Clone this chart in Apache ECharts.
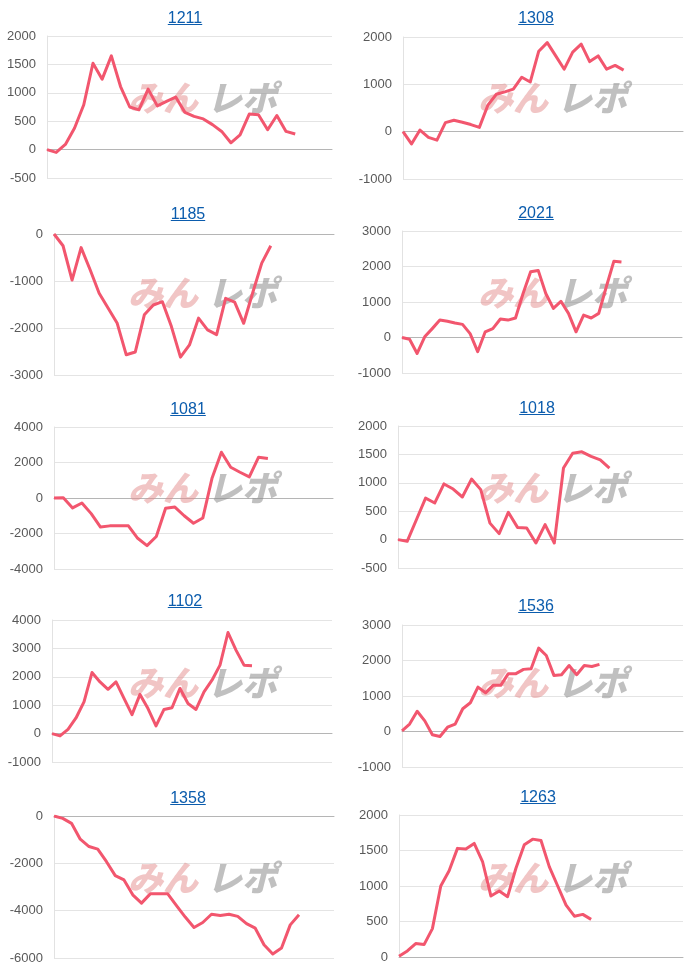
<!DOCTYPE html>
<html>
<head>
<meta charset="utf-8">
<script src="https://cdn.jsdelivr.net/npm/echarts/dist/echarts.min.js"></script>
<style>
html,body{margin:0;padding:0;background:#fff;}
#chart{width:700px;height:975px;}
</style>
</head>
<body>
<div id="chart"></div>
<script>
// ---- data ----
const titles = ['1211','1308','1185','2021','1081','1018','1102','1536','1358','1263'];
const catCounts = [32, 34, 32, 38, 31, 32, 36, 38, 33, 35];

const v1211 = [0,-50,90,380,790,1520,1240,1650,1110,750,700,1065,770,850,925,655,585,540,440,320,120,260,625,615,350,600,320,275];
const v1308 = [0,-260,35,-120,-180,190,240,200,150,90,560,790,840,900,1150,1050,1700,1880,1600,1320,1680,1850,1480,1600,1320,1400,1300];
const v1185 = [0,-250,-980,-290,-760,-1260,-1580,-1900,-2570,-2510,-1720,-1510,-1440,-1970,-2620,-2360,-1790,-2040,-2140,-1370,-1450,-1900,-1250,-620,-250];
const v2021 = [0,-50,-450,20,250,490,460,410,370,110,-400,160,250,520,490,550,1240,1850,1890,1240,820,1020,680,160,630,550,680,1430,2150,2130];
const v1081 = [0,20,-560,-280,-880,-1640,-1570,-1570,-1570,-2270,-2680,-2170,-580,-510,-1000,-1420,-1130,1130,2580,1730,1450,1190,2300,2230];
const v1018 = [0,-30,350,730,645,980,890,750,1065,880,290,105,480,215,205,-60,265,-60,1260,1520,1545,1465,1405,1260];
const v1102 = [0,-80,150,550,1120,2150,1820,1560,1820,1240,670,1380,880,270,850,910,1590,1060,850,1470,1880,2410,3560,2940,2410,2390];
const v1536 = [20,210,570,300,-90,-140,120,210,640,810,1250,1090,1300,1300,1630,1630,1750,1770,2350,2140,1580,1600,1860,1600,1860,1830,1890];
const v1358 = [0,-100,-310,-980,-1290,-1400,-1930,-2520,-2700,-3330,-3680,-3290,-3290,-3290,-3790,-4270,-4710,-4500,-4150,-4200,-4150,-4240,-4550,-4740,-5440,-5830,-5580,-4600,-4170];
const v1263 = [10,85,190,175,400,1000,1215,1530,1520,1600,1345,860,930,850,1250,1580,1660,1640,1270,1000,730,575,600,530];
const seriesValues = [v1211,v1308,v1185,v2021,v1081,v1018,v1102,v1536,v1358,v1263];

const yMins = [-500,-1000,-3000,-1000,-4000,-500,-1000,-1000,-6000,0];
const yMaxs = [2000,2000,0,3000,4000,2000,4000,3000,0,2000];
const yIntervals = [500,1000,1000,1000,2000,500,1000,1000,2000,500];

// ---- layout (pixels) ----
const gridBoxes = [
  [47,36,285,142],[403,37,280,142],
  [54,234,280,141],[402,231,280,142],
  [54,427,279,142],[398,426,285,142],
  [52,620,280,142],[402,625,281,142],
  [54,816,280,142],[399,815,284,142]
];
const titlePos = [
  [185,17],[536,17],
  [188,213],[536,212],
  [188,408],[537,407],
  [185,600],[536,605],
  [188,797],[538,796]
];
const panelOrigin = [[0,0],[350,0],[0,195],[350,195],[0,390],[350,390],[0,585],[350,585],[0,780],[350,780]];

const LINE_COLOR = '#f2566e';
const TITLE_COLOR = '#0b5cad';
const TITLE_FONT = '16px "Liberation Sans", Arial, sans-serif';
const WM_FONT = 'italic 900 35px "Noto Sans CJK JP", sans-serif';

const mctx = document.createElement('canvas').getContext('2d');
mctx.font = TITLE_FONT;

const grids = [], xAxes = [], yAxes = [], series = [], graphics = [];
for (let i = 0; i < 10; i++) {
  const [l,t,w,h] = gridBoxes[i];
  grids.push({left:l, top:t, width:w, height:h, containLabel:false});
  const cats = Array.from({length: catCounts[i]}, (_, k) => String(k + 1));
  xAxes.push({
    type:'category', gridIndex:i, data:cats, boundaryGap:false,
    axisLine:{show:true, onZero:true, lineStyle:{color:'#b5b5b5', width:1}},
    axisTick:{show:false}, axisLabel:{show:false}, splitLine:{show:false}
  });
  yAxes.push({
    type:'value', gridIndex:i, min:yMins[i], max:yMaxs[i], interval:yIntervals[i],
    axisLine:{show:true, lineStyle:{color:'#e2e2e2'}},
    axisTick:{show:false},
    axisLabel:{color:'#595959', fontSize:13, margin:11, fontFamily:'"Liberation Sans", Arial, sans-serif',
      formatter: v => String(v)},
    splitLine:{show:true, lineStyle:{color:'#e4e4e4', width:1}}
  });
  series.push({
    type:'line', xAxisIndex:i, yAxisIndex:i, data:seriesValues[i],
    symbol:'none', smooth:false, z:5,
    lineStyle:{color:LINE_COLOR, width:3, join:'round'}
  });
  // title with underline
  const [cx, cy] = titlePos[i];
  const tw = mctx.measureText(titles[i]).width;
  graphics.push({
    type:'text', left:cx - tw/2, top:cy - 6, z:10,
    style:{text:titles[i], fill:TITLE_COLOR, font:TITLE_FONT}
  });
  graphics.push({
    type:'line', z:10,
    shape:{x1:cx - tw/2, y1:cy + 7.5, x2:cx + tw/2, y2:cy + 7.5},
    style:{stroke:TITLE_COLOR, lineWidth:1.2}
  });
  // watermark
  const [ox, oy] = panelOrigin[i];
  graphics.push({
    type:'text', left:ox + 128, top:oy + 80, z:1,
    style:{text:'みん', fill:'rgba(228,140,140,0.5)', font:WM_FONT}
  });
  graphics.push({
    type:'text', left:ox + 207, top:oy + 80, z:1,
    style:{text:'レポ', fill:'rgba(140,140,140,0.55)', font:WM_FONT}
  });
}

const chart = echarts.init(document.getElementById('chart'), null, {renderer:'canvas'});
chart.setOption({
  backgroundColor:'#ffffff',
  animation:false,
  grid:grids, xAxis:xAxes, yAxis:yAxes, series:series,
  graphic:graphics
});
</script>
</body>
</html>
